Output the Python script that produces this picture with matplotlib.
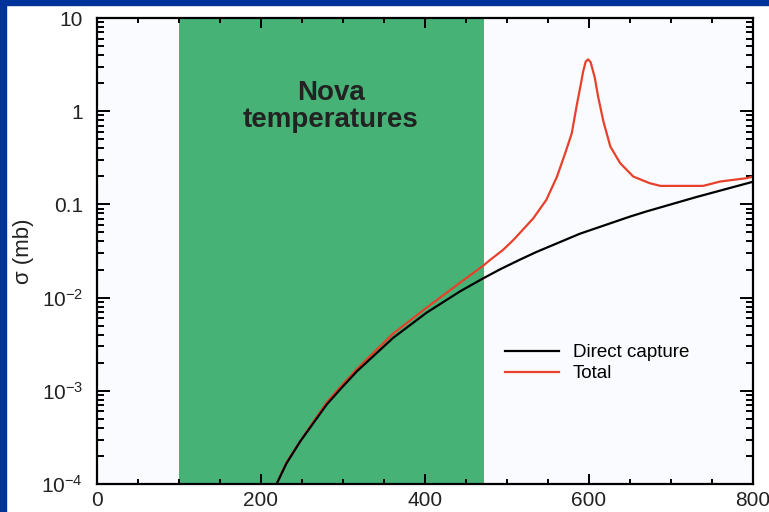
import matplotlib.pyplot as plt
from matplotlib.patches import Rectangle

plt.rcParams['font.family'] = ['Liberation Sans', 'DejaVu Sans']
plt.rcParams['mathtext.fontset'] = 'custom'
plt.rcParams['mathtext.rm'] = 'Liberation Sans'

# direct capture cross section (black)
dc_energy = [219, 231, 248, 280, 298, 317, 361, 402, 443, 471, 492, 516, 536,
             589, 650, 670, 731, 800]
dc_sigma = [1e-4, 1.66e-4, 2.88e-4, 7.1e-4, 1.07e-3, 1.62e-3, 3.69e-3, 6.9e-3,
            1.17e-2, 1.61e-2, 2.02e-2, 2.56e-2, 3.09e-2, 4.85e-2, 7.4e-2,
            8.4e-2, 0.120, 0.175]

# total cross section (red), resonance near 600
tot_energy = [219, 231, 248, 280, 298, 317, 361, 402, 443, 471, 479, 495, 508,
              532, 548, 561, 571, 579, 585, 589, 593, 596, 599, 602, 607, 611,
              617.5, 626, 638, 654, 674, 687, 739, 744, 760, 792, 800]
tot_sigma = [1e-4, 1.7e-4, 2.9e-4, 7.5e-4, 1.13e-3, 1.72e-3, 4.1e-3, 7.8e-3,
             1.45e-2, 2.2e-2, 2.52e-2, 3.24e-2, 4.17e-2, 7.08e-2, 0.112, 0.199,
             0.355, 0.58, 1.15, 1.75, 2.7, 3.4, 3.6, 3.35, 2.3, 1.45, 0.78,
             0.418, 0.277, 0.199, 0.169, 0.158, 0.158, 0.162, 0.176, 0.191, 0.199]

nova_range = (100, 472)

yticks = [1e-4, 1e-3, 1e-2, 0.1, 1, 10]
ytick_labels = [r'$\mathregular{10^{-4}}$', r'$\mathregular{10^{-3}}$',
                r'$\mathregular{10^{-2}}$', '0.1', '1', '10']
xticks = [0, 200, 400, 600, 800]

fig = plt.figure(figsize=(7.69, 5.12), dpi=100)
fig.patch.set_facecolor('white')
fig.patches.append(Rectangle((0, 0), 6 / 769, 1, transform=fig.transFigure,
                             color='#003399', zorder=-1))
fig.patches.append(Rectangle((0, 1 - 5 / 512), 1, 5 / 512, transform=fig.transFigure,
                             color='#003399', zorder=-1))

ax = fig.add_axes([97 / 769, 28 / 512, 656 / 769, 466 / 512])
ax.set_facecolor('#f9fbfe')
ax.axvspan(nova_range[0], nova_range[1], color='#46b275', lw=0, zorder=0)

ax.plot(dc_energy, dc_sigma, color='black', lw=1.6, label='Direct capture', zorder=3)
ax.plot(tot_energy, tot_sigma, color='#e8412b', lw=1.6, label='Total', zorder=2)

ax.set_yscale('log')
ax.set_xlim(0, 800)
ax.set_ylim(1e-4, 10)
ax.set_xticks(xticks)
ax.set_xticks(range(0, 801, 50), minor=True)
ax.set_yticks(yticks)
ax.set_yticklabels(ytick_labels)

for s in ax.spines.values():
    s.set_linewidth(1.6)
ax.tick_params(which='both', direction='in', top=True, right=True,
               colors='black', labelcolor='#222222', labelsize=15, width=1.4)
ax.tick_params(axis='y', which='major', length=9.5, pad=10)
ax.tick_params(axis='y', which='minor', length=5)
ax.tick_params(axis='x', which='major', length=7, pad=5)
ax.tick_params(axis='x', which='minor', length=3.5)

ax.set_ylabel('σ (mb)', fontsize=16, color='#222222', labelpad=5)

ax.text(285, 1.12, 'Nova\ntemperatures', ha='center', va='center',
        multialignment='center', fontsize=20, fontweight='bold',
        color='#222222', linespacing=1.05)

ax.legend(loc='upper left', bbox_to_anchor=(0.622, 0.30), frameon=False,
          fontsize=13.5, handlelength=2.9, handletextpad=0.7, labelspacing=0.2,
          borderpad=0, borderaxespad=0)

fig.savefig('out.png', dpi=100)
